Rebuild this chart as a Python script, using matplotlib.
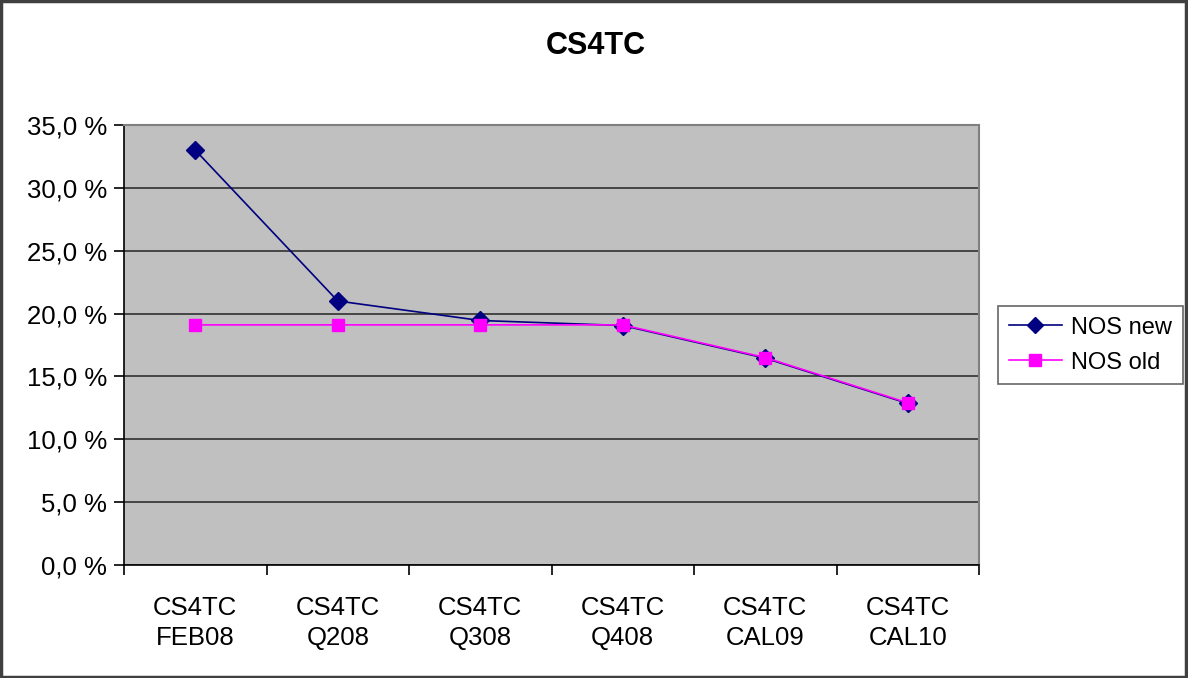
import matplotlib
matplotlib.use("Agg")
import matplotlib.pyplot as plt
from matplotlib.ticker import FixedLocator, FuncFormatter
from matplotlib.patches import Rectangle

plt.rcParams['font.family'] = ['Liberation Sans', 'DejaVu Sans']

categories = ["CS4TC\nFEB08", "CS4TC\nQ208", "CS4TC\nQ308", "CS4TC\nQ408", "CS4TC\nCAL09", "CS4TC\nCAL10"]
nos_new = [33.0, 21.0, 19.45, 19.05, 16.45, 12.85]
nos_old = [19.1, 19.1, 19.1, 19.1, 16.5, 12.9]
y_ticks = [0, 5, 10, 15, 20, 25, 30, 35]
title = "CS4TC"

fig = plt.figure(figsize=(11.88, 6.78), dpi=100)
ax = fig.add_axes([124/1188, 1 - 565/678, (979 - 124)/1188, (565 - 125)/678])
ax.set_facecolor('#C0C0C0')

x = list(range(len(categories)))
ax.plot(x, nos_new, color='#000080', lw=1.2, marker='D', markersize=9,
        markerfacecolor='#000080', markeredgecolor='#000080', label='NOS new', zorder=3)
ax.plot(x, nos_old, color='#FF00FF', lw=1.2, marker='s', markersize=9,
        markerfacecolor='#FF00FF', markeredgecolor='#FF00FF', label='NOS old', zorder=4)

ax.set_xlim(-0.5, len(categories) - 0.5)
ax.set_ylim(0, 35)
ax.yaxis.set_major_locator(FixedLocator(y_ticks))
ax.yaxis.set_major_formatter(FuncFormatter(lambda v, p: f"{v:.1f}".replace('.', ',') + " %"))
ax.grid(axis='y', color='#303030', lw=1.2, zorder=1)
ax.set_axisbelow(True)

ax.set_xticks([i - 0.5 for i in range(len(categories) + 1)])
ax.set_xticklabels([])
ax.set_xticks(x, minor=True)
ax.set_xticklabels(categories, minor=True, fontsize=18.5, linespacing=1.35)
ax.tick_params(axis='x', which='minor', length=0, pad=22)
ax.tick_params(axis='x', which='major', length=7, width=1.2, color='black', direction='out')
ax.tick_params(axis='y', length=7, width=1.2, color='black', direction='out', labelsize=18.5, pad=5)

for s in ['top', 'right']:
    ax.spines[s].set_color('#808080')
    ax.spines[s].set_linewidth(1.5)
for s in ['left', 'bottom']:
    ax.spines[s].set_color('black')
    ax.spines[s].set_linewidth(1.2)

fig.text(596/1188, 1 - 46/678, title, ha='center', va='center', fontsize=22, fontweight='bold')

leg = fig.legend(loc='upper left', bbox_to_anchor=(998/1188, 1 - 306/678), fontsize=17,
                 frameon=True, fancybox=False, edgecolor='#404040', borderpad=0.45,
                 handlelength=2.25, handletextpad=0.4, labelspacing=0.55, borderaxespad=0)
leg.get_frame().set_linewidth(1.2)
for h in leg.legend_handles:
    h.set_markersize(8)

fig.patches.append(Rectangle((0.001, 0.002), 0.997, 0.996, transform=fig.transFigure,
                             fill=False, edgecolor='#404040', lw=2.5))

fig.savefig('out.png', dpi=100)
